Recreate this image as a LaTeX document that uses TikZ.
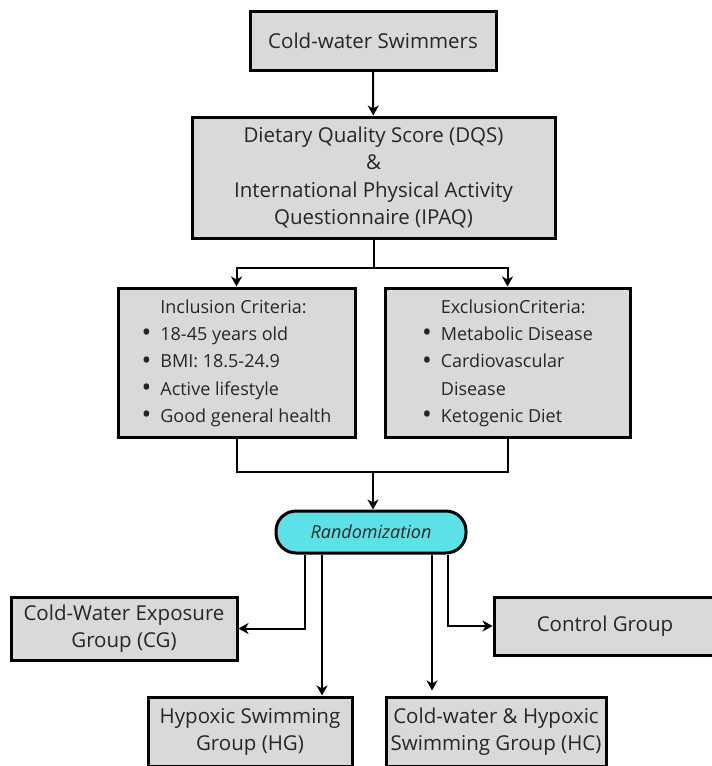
\documentclass[tikz,border=0pt]{standalone}
\usepackage{fontspec}
\setmainfont{Open Sans}
\usepackage{xcolor}
\usepackage{tikz}
\usetikzlibrary{arrows.meta}
\definecolor{boxgray}{HTML}{D9D9D9}
\definecolor{randcyan}{HTML}{5CE1E6}
\definecolor{inkgray}{HTML}{262626}
\newcommand{\bul}{\raisebox{-1.2pt}{\fontsize{26}{0}\selectfont\textbullet}}

\begin{document}
\begin{tikzpicture}[x=1pt,y=-1pt,>={Stealth[length=10pt,width=11pt,inset=3pt]},
    box/.style={draw=black,line width=3pt,fill=boxgray,text=inkgray,align=center,
      font=\fontsize{20.5}{27}\selectfont,inner sep=2pt},
    listbox/.style={box,font=\fontsize{18}{27.3}\selectfont},
    pill/.style={draw=black,line width=3pt,fill=randcyan,rounded corners=20pt,
      text=inkgray,font=\fontsize{18}{20}\selectfont\itshape},
    link/.style={line width=2pt}]
  \useasboundingbox (0,0) rectangle (712,766);
  \node[box,minimum width=246pt,minimum height=59pt] (swim) at (373,40.5) {Cold-water Swimmers};
  \node[box,minimum width=363pt,minimum height=121pt,font=\fontsize{20.5}{27.5}\selectfont] (dqs) at (373.5,177.5)
    {Dietary Quality Score (DQS)\\ \&\\ International Physical Activity\\ Questionnaire (IPAQ)};
  \node[listbox,minimum width=237pt,minimum height=149pt] (incl) at (236.5,362.5)
    {\begin{tabular}{@{}l@{\hspace{9pt}}l@{}}
      & Inclusion Criteria:\\
      \bul & 18-45 years old\\
      \bul & BMI: 18.5-24.9\\
      \bul & Active lifestyle\\
      \bul & Good general health
    \end{tabular}};
  \node[listbox,minimum width=245pt,minimum height=149pt] (excl) at (507.5,362.5)
    {\begin{tabular}{@{}l@{\hspace{9pt}}l@{}}
      & ExclusionCriteria:\\
      \bul & Metabolic Disease\\
      \bul & Cardiovascular\\
      & Disease\\
      \bul & Ketogenic Diet
    \end{tabular}};
  \node[pill,minimum width=190pt,minimum height=42pt] (rand) at (371,532) {Randomization};
  \node[box,minimum width=226pt,minimum height=63pt] (cg) at (124,628.5)
    {Cold-Water Exposure\\ Group (CG)};
  \node[box,minimum width=222pt,minimum height=58pt] (ctrl) at (605,626) {Control Group};
  \node[box,minimum width=204pt,minimum height=69pt] (hg) at (250,731.5)
    {Hypoxic Swimming\\ Group (HG)};
  \node[box,minimum width=220pt,minimum height=69pt] (hc) at (496,731.5)
    {Cold-water \& Hypoxic\\ Swimming Group (HC)};

  \draw[link,->] (swim) -- (dqs);
  \draw[link,->] (dqs.south) -- ++(0,28) -| (incl.north);
  \draw[link,->] (dqs.south) ++(0,28) -| (excl.north);
  \coordinate (merge) at (373,472);
  \draw[link] (incl.south) |- (merge) -| (excl.south);
  \draw[link,->] (merge) -- (merge |- rand.north);
  \draw[link,->] ([xshift=-66pt]rand.south) |- (cg.east);
  \draw[link,->] ([xshift=-49pt]rand.south) -- ([xshift=-49pt]rand.south |- hg.north);
  \draw[link,->,shorten >=5pt] ([xshift=61pt]rand.south) -- ([xshift=61pt]rand.south |- hc.north);
  \draw[link,->] ([xshift=77pt]rand.south) |- (ctrl.west);
\end{tikzpicture}
\end{document}
